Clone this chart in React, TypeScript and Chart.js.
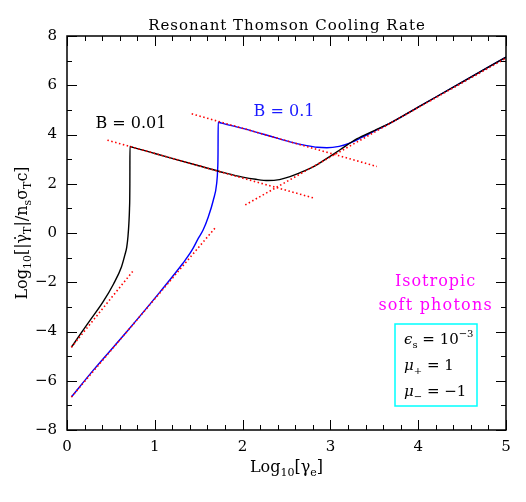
import React, { useEffect, useRef } from "react";
import { Chart, registerables } from "chart.js";

Chart.register(...registerables);

// ---- data ----
const xTicks = [0, 1, 2, 3, 4, 5];
const yTicks = [-8, -6, -4, -2, 0, 2, 4, 6, 8];

const blackX = [0.05, 0.15, 0.26, 0.41, 0.53, 0.62, 0.66, 0.68, 0.695, 0.705, 0.712, 0.716, 0.717, 0.75, 1.0, 1.5, 1.8, 2.0, 2.15, 2.29, 2.42, 2.54, 2.73, 2.85, 2.96, 3.11, 3.3, 3.5, 3.68, 4.0, 4.5, 5.0];
const blackY = [-4.64, -4.12, -3.56, -2.8, -2.07, -1.38, -0.88, -0.58, -0.12, 0.4, 1.0, 2.0, 3.51, 3.48, 3.23, 2.73, 2.44, 2.27, 2.18, 2.13, 2.17, 2.29, 2.56, 2.78, 3.03, 3.38, 3.82, 4.16, 4.46, 5.11, 6.13, 7.14];

const blueX = [0.05, 0.3, 0.68, 1.06, 1.32, 1.42, 1.495, 1.55, 1.61, 1.667, 1.705, 1.716, 1.72, 1.722, 1.76, 2.0, 2.3, 2.54, 2.73, 2.85, 2.96, 3.1, 3.22, 3.35, 3.49, 3.68, 4.0, 4.5, 5.0];
const blueY = [-6.66, -5.57, -4.01, -2.39, -1.23, -0.72, -0.22, 0.12, 0.66, 1.34, 2.02, 2.6, 3.2, 4.5, 4.46, 4.25, 3.95, 3.7, 3.55, 3.48, 3.46, 3.52, 3.65, 3.87, 4.12, 4.46, 5.11, 6.13, 7.14];

const asymBlackLowX = [0.05, 0.755];
const asymBlackLowY = [-4.64, -1.53];
const asymBlueLowX = [0.05, 1.7];
const asymBlueLowY = [-6.66, 0.26];
const asymBlackHighX = [0.46, 2.81];
const asymBlackHighY = [3.77, 1.42];
const asymBlueHighX = [1.42, 3.53];
const asymBlueHighY = [4.84, 2.7];
const asymRiseX = [2.03, 5.0];
const asymRiseY = [1.14, 7.1];

const titleText = "Resonant Thomson Cooling Rate";
const labelB1 = "B = 0.01";
const labelB2 = "B = 0.1";
const isoLines = ["Isotropic", "soft photons"];

const FONT = '"DejaVu Serif", serif';

type Seg = { t: string; size?: number; dy?: number; italic?: boolean };

function segFont(s: Seg, base: number) {
  return `${s.italic ? "italic " : ""}${s.size ?? base}px ${FONT}`;
}

function richWidth(ctx: CanvasRenderingContext2D, segs: Seg[], base: number) {
  let w = 0;
  for (const s of segs) {
    ctx.font = segFont(s, base);
    w += ctx.measureText(s.t).width;
  }
  return w;
}

function drawRich(
  ctx: CanvasRenderingContext2D,
  segs: Seg[],
  x: number,
  y: number,
  base: number,
  align: "left" | "center",
  spacing = 0
) {
  (ctx as any).letterSpacing = spacing + "px";
  const w = richWidth(ctx, segs, base) - spacing;
  let cx = align === "center" ? x - w / 2 : x;
  ctx.textAlign = "left";
  ctx.textBaseline = "alphabetic";
  for (const s of segs) {
    ctx.font = segFont(s, base);
    ctx.fillText(s.t, cx, y + (s.dy ?? 0));
    cx += ctx.measureText(s.t).width;
  }
  (ctx as any).letterSpacing = "0px";
}

const pairs = (xs: number[], ys: number[]) => xs.map((x, i) => ({ x, y: ys[i] }));

const decorPlugin = {
  id: "decor",
  afterDraw(chart: any) {
    const ctx: CanvasRenderingContext2D = chart.ctx;
    const { left, right, top, bottom } = chart.chartArea;
    const xs = chart.scales.x;
    const ys = chart.scales.y;
    ctx.save();
    // frame
    ctx.strokeStyle = "#000";
    ctx.lineWidth = 1.5;
    ctx.strokeRect(left, top, right - left, bottom - top);
    // ticks
    ctx.lineWidth = 1;
    ctx.beginPath();
    for (let i = 0; i <= 25; i++) {
      const v = i * 0.2;
      const px = Math.round(xs.getPixelForValue(v)) + 0.5;
      const len = i % 5 === 0 ? 10 : 5;
      ctx.moveTo(px, bottom);
      ctx.lineTo(px, bottom - len);
      ctx.moveTo(px, top);
      ctx.lineTo(px, top + len);
    }
    for (let v = -8; v <= 8; v++) {
      const py = Math.round(ys.getPixelForValue(v)) + 0.5;
      const len = v % 2 === 0 ? 10 : 5;
      ctx.moveTo(left, py);
      ctx.lineTo(left + len, py);
      ctx.moveTo(right, py);
      ctx.lineTo(right - len, py);
    }
    ctx.stroke();

    // title
    ctx.fillStyle = "#000";
    drawRich(ctx, [{ t: titleText }], (left + right) / 2, 30, 15, "center", 1);

    // x title
    drawRich(
      ctx,
      [
        { t: "Log" },
        { t: "10", size: 11, dy: 4 },
        { t: "[γ" },
        { t: "e", size: 11, dy: 4 },
        { t: "]" },
      ],
      (left + right) / 2,
      472,
      16,
      "center"
    );

    // y title
    ctx.save();
    ctx.translate(27, (top + bottom) / 2);
    ctx.rotate(-Math.PI / 2);
    drawRich(
      ctx,
      [
        { t: "Log" },
        { t: "10", size: 11, dy: 4 },
        { t: "[|γ̇" },
        { t: "T", size: 11, dy: 4 },
        { t: "|/n" },
        { t: "s", size: 11, dy: 4 },
        { t: "σ" },
        { t: "T", size: 11, dy: 4 },
        { t: "c]" },
      ],
      0,
      0,
      16,
      "center"
    );
    ctx.restore();

    // curve labels
    ctx.fillStyle = "#000";
    drawRich(ctx, [{ t: labelB1 }], 131, 128, 16, "center");
    ctx.fillStyle = "#1a1aff";
    drawRich(ctx, [{ t: labelB2 }], 284, 116, 16, "center");

    // isotropic text
    ctx.fillStyle = "#ff00ff";
    drawRich(ctx, [{ t: isoLines[0] }], 435, 286, 16, "center", 1);
    drawRich(ctx, [{ t: isoLines[1] }], 435, 310, 16, "center", 1.2);

    // box
    ctx.strokeStyle = "#00ffff";
    ctx.lineWidth = 1.5;
    ctx.strokeRect(395, 324, 82, 82);
    ctx.fillStyle = "#000";
    drawRich(
      ctx,
      [
        { t: "ϵ", italic: true },
        { t: "s", size: 10, dy: 4 },
        { t: " = 10" },
        { t: "−3", size: 10, dy: -7 },
      ],
      404,
      344,
      15,
      "left"
    );
    drawRich(
      ctx,
      [
        { t: "μ", italic: true },
        { t: "+", size: 10, dy: 4 },
        { t: " = 1" },
      ],
      404,
      370,
      15,
      "left"
    );
    drawRich(
      ctx,
      [
        { t: "μ", italic: true },
        { t: "−", size: 10, dy: 4 },
        { t: " = −1" },
      ],
      404,
      396,
      15,
      "left"
    );
    ctx.restore();
  },
};

export default function App() {
  const ref = useRef<HTMLCanvasElement | null>(null);
  useEffect(() => {
    if (!ref.current) return;
    const dotted = (xs: number[], ys: number[]) => ({
      data: pairs(xs, ys),
      borderColor: "#ff0000",
      borderWidth: 1.6,
      borderDash: [1.5, 2.5],
      pointRadius: 0,
      showLine: true,
      fill: false,
    });
    const curve = (xs: number[], ys: number[], color: string) => ({
      data: pairs(xs, ys),
      borderColor: color,
      borderWidth: 1.4,
      pointRadius: 0,
      showLine: true,
      fill: false,
      cubicInterpolationMode: "monotone",
    });
    const chart = new Chart(ref.current, {
      type: "line",
      data: {
        datasets: [
          dotted(asymBlackLowX, asymBlackLowY),
          dotted(asymBlueLowX, asymBlueLowY),
          dotted(asymBlackHighX, asymBlackHighY),
          dotted(asymBlueHighX, asymBlueHighY),
          dotted(asymRiseX, asymRiseY),
          curve(blackX, blackY, "#000000"),
          curve(blueX, blueY, "#0000ff"),
        ] as any,
      },
      options: {
        responsive: false,
        maintainAspectRatio: false,
        animation: false,
        parsing: false as any,
        layout: { padding: { top: 36, right: 20, left: 0, bottom: 0 } },
        plugins: { legend: { display: false }, tooltip: { enabled: false }, title: { display: false } },
        scales: {
          x: {
            type: "linear",
            min: 0,
            max: 5,
            afterFit: (s: any) => {
              s.height = 72;
            },
            afterBuildTicks: (s: any) => {
              s.ticks = xTicks.map((v) => ({ value: v }));
            },
            ticks: {
              color: "#000",
              font: { family: FONT, size: 15 },
              padding: 8,
              maxRotation: 0,
              autoSkip: false,
            },
            grid: { display: false, drawTicks: false },
            border: { display: false },
          },
          y: {
            type: "linear",
            min: -8,
            max: 8,
            afterFit: (s: any) => {
              s.width = 67;
            },
            afterBuildTicks: (s: any) => {
              s.ticks = yTicks.map((v) => ({ value: v }));
            },
            ticks: {
              color: "#000",
              font: { family: FONT, size: 15 },
              padding: 10,
              autoSkip: false,
              callback: (v: any) => (Number(v) < 0 ? "−" + Math.abs(Number(v)) : String(v)),
            },
            grid: { display: false, drawTicks: false },
            border: { display: false },
          },
        },
      },
      plugins: [decorPlugin],
    });
    return () => chart.destroy();
  }, []);
  return (
    <div style={{ position: "fixed", left: 0, top: 0, width: 526, height: 502, background: "#fff" }}>
      <canvas ref={ref} width={526} height={502} />
    </div>
  );
}
